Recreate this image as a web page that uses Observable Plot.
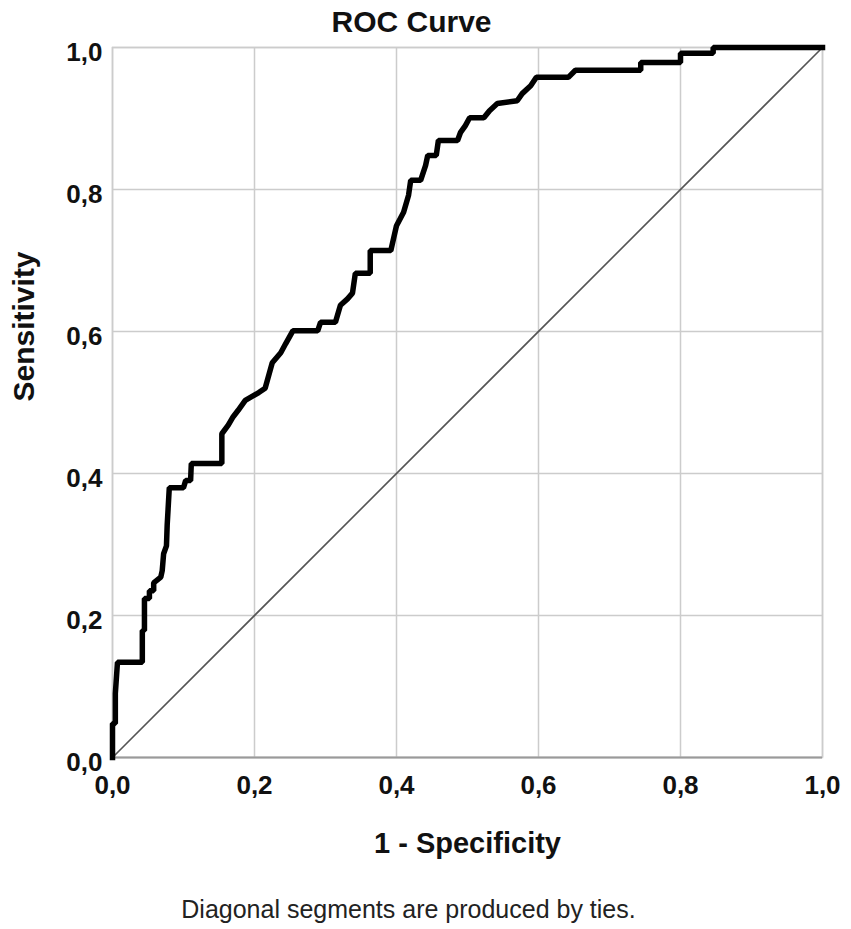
<!DOCTYPE html>
<html>
<head>
<meta charset="utf-8">
<script src="https://cdn.jsdelivr.net/npm/d3@7"></script>
<script src="https://cdn.jsdelivr.net/npm/@observablehq/plot@0.6"></script>
<style>
  html, body { margin: 0; padding: 0; background: #fff; }
  svg { display: block; }
</style>
</head>
<body>
<div id="chart"></div>
<script>
// ROC curve vertices (1 - specificity, sensitivity)
const fpr = [0,0,0.004,0.004,0.007,0.042,0.042,0.045,0.045,0.052,0.052,0.058,0.058,0.068,0.070,0.072,0.076,0.077,0.080,0.100,0.103,0.110,0.111,0.154,0.154,0.163,0.170,0.177,0.187,0.206,0.215,0.225,0.237,0.244,0.254,0.289,0.293,0.314,0.321,0.331,0.338,0.342,0.363,0.363,0.392,0.400,0.410,0.417,0.420,0.434,0.441,0.444,0.456,0.459,0.486,0.490,0.497,0.503,0.523,0.531,0.542,0.570,0.577,0.589,0.597,0.642,0.652,0.744,0.744,0.800,0.800,0.846,0.846,1];
const tpr = [0,0.048,0.048,0.090,0.134,0.134,0.179,0.179,0.224,0.224,0.235,0.235,0.246,0.254,0.263,0.287,0.298,0.327,0.380,0.380,0.390,0.390,0.414,0.414,0.456,0.468,0.480,0.489,0.503,0.514,0.520,0.556,0.570,0.583,0.601,0.601,0.613,0.613,0.637,0.646,0.654,0.682,0.682,0.714,0.714,0.749,0.768,0.792,0.813,0.813,0.834,0.848,0.848,0.869,0.869,0.880,0.890,0.901,0.901,0.911,0.921,0.925,0.935,0.946,0.958,0.958,0.968,0.968,0.979,0.979,0.992,0.992,1,1];
const ticks = [0, 0.2, 0.4, 0.6, 0.8, 1.0];
const diagonal = [0, 1];

const titleText = "ROC Curve";
const xLabel = "1 - Specificity";
const yLabel = "Sensitivity";
const captionText = "Diagonal segments are produced by ties.";

const curve = fpr.map((x, i) => ({x, y: tpr[i]}));
const diag = diagonal.map(v => ({x: v, y: v}));
const fmt = d => d.toFixed(1).replace(".", ",");

const chart = Plot.plot({
  width: 851,
  height: 929,
  marginTop: 47,
  marginBottom: 172,
  marginLeft: 112,
  marginRight: 29,
  style: {fontFamily: "'Liberation Sans', Arial, sans-serif", background: "#fff", fontSize: "26px", fontWeight: "bold", color: "#111"},
  x: {domain: [0, 1], ticks: ticks, tickFormat: fmt},
  y: {domain: [0, 1], ticks: ticks, tickFormat: fmt},
  marks: [
    Plot.gridX(ticks, {stroke: "#cccccc", strokeOpacity: 1, strokeWidth: 1.5}),
    Plot.gridY(ticks, {stroke: "#cccccc", strokeOpacity: 1, strokeWidth: 1.5}),
    Plot.frame({stroke: "#cccccc", strokeWidth: 1.5}),
    Plot.ruleY([0], {stroke: "#9a9a9a", strokeWidth: 2}),
    Plot.axisX(ticks, {tickSize: 0, tickPadding: 18, tickFormat: fmt, fontSize: 26, fill: "#111", label: null}),
    Plot.axisY(ticks, {tickSize: 0, tickPadding: 10, dy: 5, tickFormat: fmt, fontSize: 26, fill: "#111", label: null}),
    Plot.line(diag, {x: "x", y: "y", stroke: "#555", strokeWidth: 1.6}),
    Plot.line(curve, {x: "x", y: "y", stroke: "#000", strokeWidth: 5.5, strokeLinejoin: "miter", strokeLinecap: "square"}),
    Plot.text([titleText], {frameAnchor: "top", lineAnchor: "middle", dx: -56, dy: -25, fontSize: 30, fontWeight: "bold", fill: "#111"}),
    Plot.text([xLabel], {frameAnchor: "bottom", lineAnchor: "middle", dy: 86, fontSize: 29, fontWeight: "bold", fill: "#111"}),
    Plot.text([yLabel], {frameAnchor: "left", lineAnchor: "middle", dx: -88, dy: -1, rotate: -90, fontSize: 30, fontWeight: "bold", fill: "#111"}),
    Plot.text([captionText], {frameAnchor: "bottom", lineAnchor: "middle", dx: -59, dy: 152, fontSize: 25, fontWeight: "normal", fill: "#222"})
  ]
});
document.getElementById("chart").appendChild(chart);
</script>
</body>
</html>
